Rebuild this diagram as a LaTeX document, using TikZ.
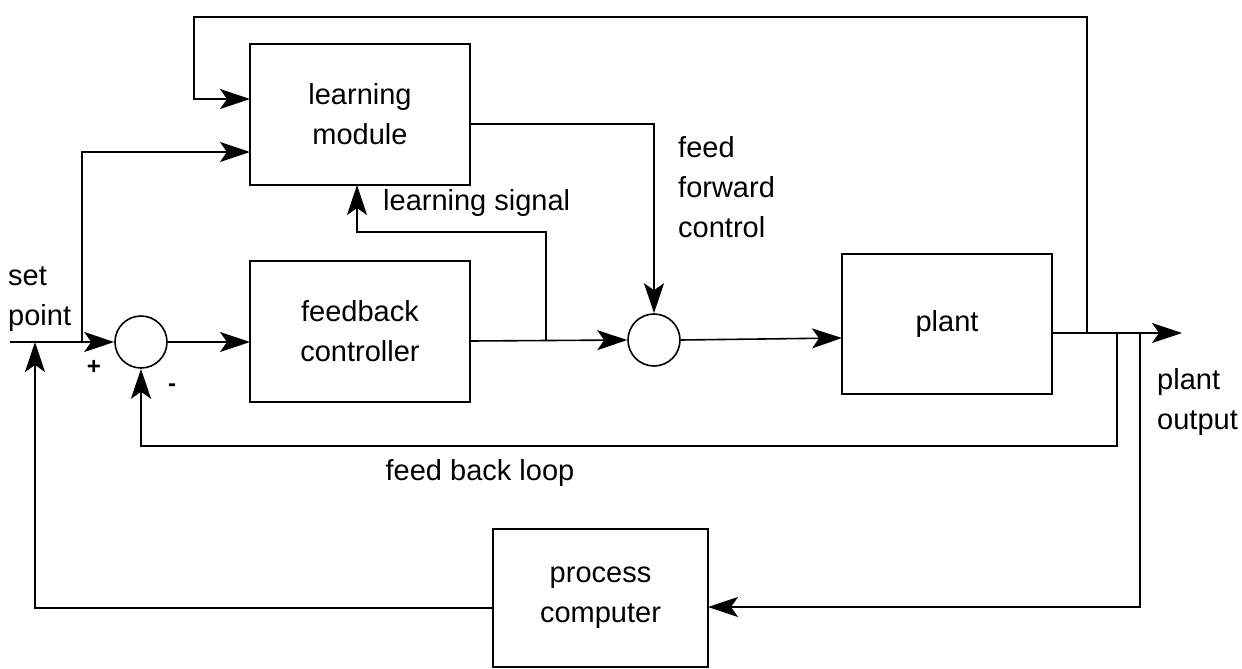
\documentclass[tikz,border=0pt]{standalone}
\usepackage{fontspec}
\setmainfont{Liberation Sans}
\usetikzlibrary{arrows.meta,calc}
\tikzset{
  wire/.style={line width=1.6pt, line join=miter},
  arr/.style={wire, -{Stealth[length=30pt,width=20pt,inset=7pt]}},
  blk/.style={draw, line width=1.6pt, rectangle, minimum width=220pt, minimum height=141pt, inner sep=0pt, align=center},
  sumc/.style={draw, line width=1.6pt, circle, minimum size=52pt, inner sep=0pt},
  lbl/.style={inner sep=0pt, align=left},
}
\begin{document}
\begin{tikzpicture}[x=1pt,y=-1pt]
\fontsize{29}{40}\selectfont
\useasboundingbox (0,0) rectangle (1242,669);

% blocks
\node[blk] (lm) at (360,114.5) {learning\\module};
\node[blk] (fc) at (360,331.5) {feedback\\controller};
\node[blk, minimum width=210pt, minimum height=140pt] (plant) at (947,324) {plant};
\node[blk, minimum width=215pt, minimum height=138pt] (pc) at (600.5,598) {process\\computer};
\node[sumc] (s1) at (141,342) {};
\node[sumc] (s2) at (654,340) {};

% coordinates
\coordinate (sp) at (10,342);
\coordinate (j1) at (82,342);
\coordinate (j1t) at (82,152);
\coordinate (lmin2) at (250,152);
\coordinate (lmin1) at (250,99);
\coordinate (lmout) at (470,124);
\coordinate (fcout) at (470,341);
\coordinate (fcin) at (250,342);
\coordinate (j2) at (546,341);
\coordinate (lsup) at (546,232);
\coordinate (lsl) at (357,232);
\coordinate (lmbot) at (357,185);
\coordinate (plin) at (842,338);
\coordinate (plout) at (1052,333);
\coordinate (jt) at (1087,333);
\coordinate (jf) at (1117,333);
\coordinate (jp) at (1140,333);
\coordinate (outend) at (1182,333);
\coordinate (topr) at (1087,17);
\coordinate (topl) at (194,17);
\coordinate (topd) at (194,99);
\coordinate (fbr) at (1117,446);
\coordinate (fbl) at (141,446);
\coordinate (pcr) at (1140,607);
\coordinate (pcin) at (708,607);
\coordinate (pcout) at (493,608);
\coordinate (pcl) at (35,608);
\coordinate (spj) at (35,342);

% set point into summing junction
\draw[arr] (sp) -- (s1.west);
\draw[arr] (j1) -- (j1t) -- (lmin2);
% summing junction to feedback controller
\draw[arr] (s1.east) -- (fcin);
% feedback controller to second junction
\draw[arr] (fcout) -- (s2.west);
% learning signal
\draw[arr] (j2) -- (lsup) -- (lsl) -- (lmbot);
% learning module feed forward
\draw[arr] (lmout) -| (s2.north);
% second junction to plant
\draw[arr] (s2.east) -- (plin);
% plant output
\draw[arr] (plout) -- (outend);
% top loop to learning module
\draw[arr] (jt) -- (topr) -- (topl) -- (topd) -- (lmin1);
% feedback loop
\draw[arr] (jf) -- (fbr) -- (fbl) -- (s1.south);
% plant output to process computer
\draw[arr] (jp) -- (pcr) -- (pcin);
% process computer to set point
\draw[arr] (pcout) -- (pcl) -- (spj);

% labels
\node[lbl, anchor=west] (tsp) at (8,299) {set\\point};
\node[lbl] (tplus) at (94,367) {\fontsize{24}{24}\selectfont\bfseries +};
\node[lbl] (tminus) at (172,388) {\fontsize{24}{24}\selectfont\bfseries -};
\node[lbl, anchor=west] (tls) at (383,203) {learning signal};
\node[lbl, anchor=west] (tff) at (678,187) {feed\\forward\\control};
\node[lbl] (tfb) at (480,473) {feed back loop};
\node[lbl, anchor=west] (tpo) at (1157,402) {plant\\output};
\end{tikzpicture}
\end{document}
